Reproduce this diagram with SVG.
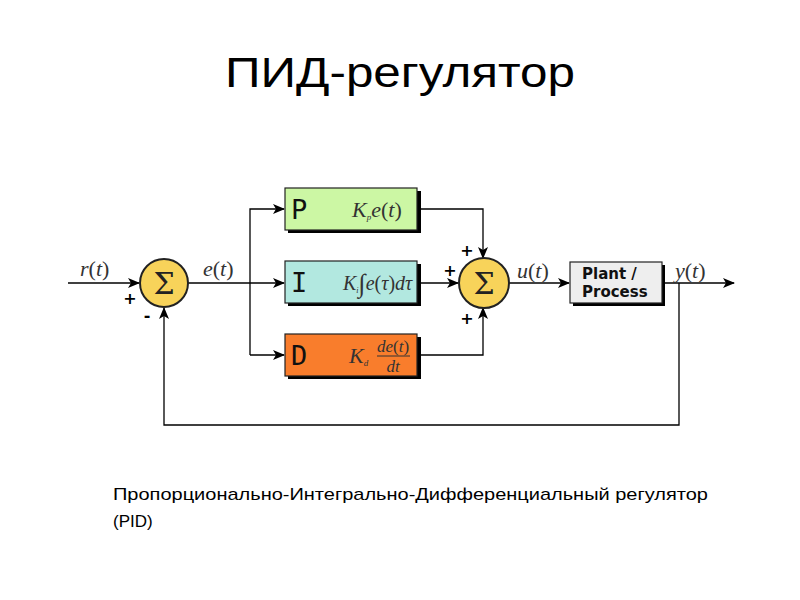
<svg xmlns="http://www.w3.org/2000/svg" width="800" height="600" viewBox="0 0 800 600">
<defs>
<marker id="arr" markerWidth="12" markerHeight="10" refX="11" refY="5" orient="auto" markerUnits="userSpaceOnUse">
<path d="M0,0 L12,5 L0,10 L3,5 Z" fill="#000"/>
</marker>
</defs>
<style>
.title{font-family:"Liberation Sans",Arial,sans-serif;font-size:42px;fill:#000}
.sub{font-family:"Liberation Sans",Arial,sans-serif;font-size:17px;fill:#000}
.wire{fill:none;stroke:#000;stroke-width:1.3}
.box{stroke:#222;stroke-width:1.2}
.shadow{fill:#000}
.sum{fill:#f8d35a;stroke:#222;stroke-width:2}
.sig{font-family:"Liberation Serif","DejaVu Serif",serif;font-size:22px;fill:#333}
.math{font-family:"Liberation Serif","DejaVu Serif",serif;fill:#333}
.letter{font-family:"DejaVu Sans Mono","Liberation Mono",monospace;font-size:27px;fill:#111}
.sign{font-family:"DejaVu Sans",sans-serif;font-size:16px;font-weight:bold;fill:#000}
.plant{font-family:"DejaVu Sans",sans-serif;font-size:15px;font-weight:bold;fill:#111}
</style>

<text class="title" x="400" y="87" text-anchor="middle" textLength="350" lengthAdjust="spacingAndGlyphs">ПИД-регулятор</text>

<g id="connectors">
<path class="wire" d="M68,283 H139" marker-end="url(#arr)"/>
<path class="wire" d="M188,283 H284" marker-end="url(#arr)"/>
<path class="wire" d="M250,355 V209 H284" marker-end="url(#arr)"/>
<path class="wire" d="M250,355 H284" marker-end="url(#arr)"/>
<path class="wire" d="M417,209 H483 V258" marker-end="url(#arr)"/>
<path class="wire" d="M417,283 H458" marker-end="url(#arr)"/>
<path class="wire" d="M417,355 H483 V308" marker-end="url(#arr)"/>
<path class="wire" d="M509,283 H569" marker-end="url(#arr)"/>
<path class="wire" d="M662,283 H734" marker-end="url(#arr)"/>
<path class="wire" d="M679,283 V425 H164 V308" marker-end="url(#arr)"/>
</g>

<g id="labels">
<text class="sig" x="80" y="276"><tspan font-style="italic">r</tspan>(<tspan font-style="italic">t</tspan>)</text>
<text class="sig" x="203" y="276"><tspan font-style="italic">e</tspan>(<tspan font-style="italic">t</tspan>)</text>
<text class="sig" x="517" y="278"><tspan font-style="italic">u</tspan>(<tspan font-style="italic">t</tspan>)</text>
<text class="sig" x="675" y="278"><tspan font-style="italic">y</tspan>(<tspan font-style="italic">t</tspan>)</text>
</g>

<g id="sum1">
<circle class="sum" cx="164" cy="283" r="24"/>
<text x="164" y="294" text-anchor="middle" font-family="DejaVu Serif,serif" font-size="30" fill="#222">Σ</text>
<text class="sign" x="130" y="304" text-anchor="middle">+</text>
<text class="sign" x="147" y="321" text-anchor="middle">-</text>
</g>

<g id="P">
<rect class="shadow" x="288" y="191" width="133" height="42"/>
<rect class="box" x="285" y="188" width="132" height="42" fill="#ccf7a4"/>
<text class="letter" x="291" y="219">P</text>
<text class="math" x="352" y="217" style="font-size:22px"><tspan font-style="italic">K</tspan><tspan font-size="9" font-style="italic" dy="3">p</tspan><tspan dy="-3" font-style="italic">e</tspan>(<tspan font-style="italic">t</tspan>)</text>
</g>

<g id="I">
<rect class="shadow" x="288" y="264" width="133" height="42"/>
<rect class="box" x="285" y="261" width="132" height="42" fill="#b2e8e0"/>
<text class="letter" x="291" y="292">I</text>
<text class="math" x="343" y="290" style="font-size:20px"><tspan font-style="italic">K</tspan><tspan font-size="8" font-style="italic" dy="3">i</tspan><tspan dy="-1" font-size="26">∫</tspan><tspan dy="-2" font-style="italic">e</tspan>(<tspan font-style="italic">τ</tspan>)<tspan font-style="italic">dτ</tspan></text>
</g>

<g id="D">
<rect class="shadow" x="288" y="337" width="133" height="42"/>
<rect class="box" x="285" y="334" width="132" height="42" fill="#f97d2c"/>
<text class="letter" x="291" y="365">D</text>
<text class="math" x="349" y="363" style="font-size:22px"><tspan font-style="italic">K</tspan><tspan font-size="9" font-style="italic" dy="3">d</tspan></text>
<text class="math" x="393" y="352" text-anchor="middle" style="font-size:17px"><tspan font-style="italic">de</tspan>(<tspan font-style="italic">t</tspan>)</text>
<line x1="377" y1="356" x2="410" y2="356" stroke="#333" stroke-width="1"/>
<text class="math" x="393" y="372" text-anchor="middle" style="font-size:17px" font-style="italic">dt</text>
</g>

<g id="sum2">
<circle class="sum" cx="484" cy="283" r="25"/>
<text x="484" y="294" text-anchor="middle" font-family="DejaVu Serif,serif" font-size="30" fill="#222">Σ</text>
<text class="sign" x="467" y="256" text-anchor="middle">+</text>
<text class="sign" x="450" y="276" text-anchor="middle">+</text>
<text class="sign" x="467" y="324" text-anchor="middle">+</text>
</g>

<g id="plant">
<rect class="shadow" x="573" y="265" width="92" height="41"/>
<rect class="box" x="570" y="262" width="92" height="41" fill="#eeeeee"/>
<text class="plant" x="582" y="279">Plant /</text>
<text class="plant" x="582" y="297">Process</text>
</g>

<text class="sub" x="113" y="500" textLength="595" lengthAdjust="spacingAndGlyphs">Пропорционально-Интегрально-Дифференциальный регулятор</text>
<text class="sub" x="113" y="527">(PID)</text>
</svg>
